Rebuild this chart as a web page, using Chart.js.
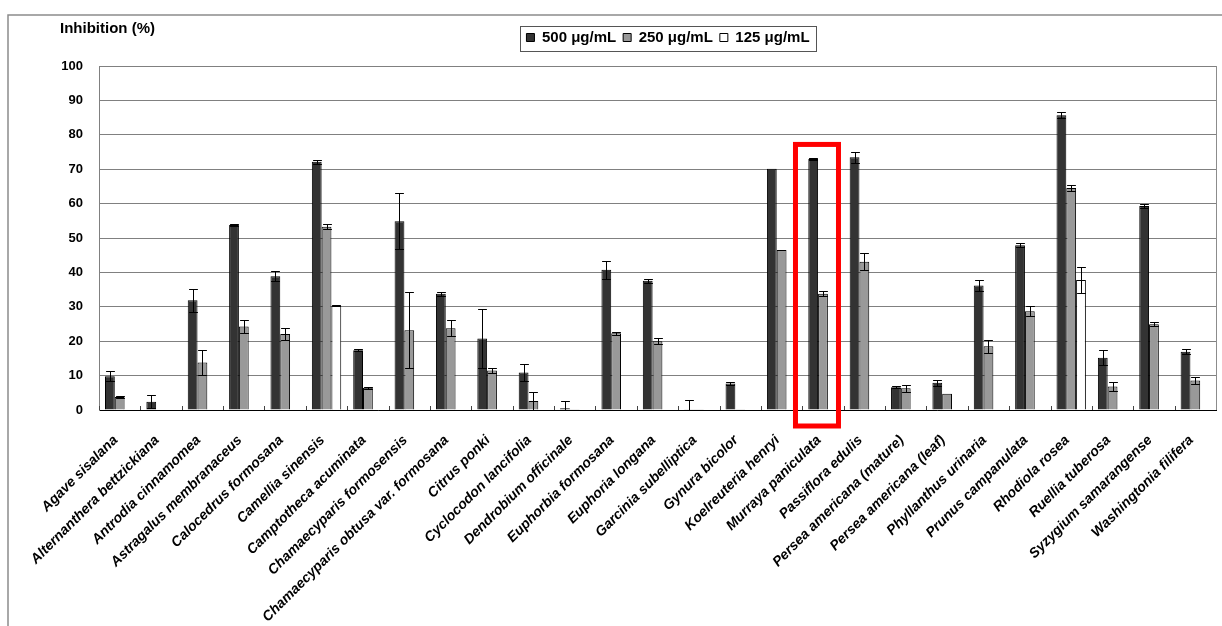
<!DOCTYPE html>
<html>
<head>
<meta charset="utf-8">
<script src="https://cdn.jsdelivr.net/npm/chart.js@4.4.1/dist/chart.umd.min.js"></script>
<style>
  html, body { margin: 0; padding: 0; background: #fff; }
</style>
</head>
<body>
<canvas id="chart" width="1222" height="626"></canvas>
<script>
// plant extracts tested
const species = [
  'Agave sisalana', 'Alternanthera bettzickiana', 'Antrodia cinnamomea',
  'Astragalus membranaceus', 'Calocedrus formosana', 'Camellia sinensis',
  'Camptotheca acuminata', 'Chamaecyparis formosensis',
  'Chamaecyparis obtusa var. formosana', 'Citrus ponki', 'Cyclocodon lancifolia',
  'Dendrobium officinale', 'Euphorbia formosana', 'Euphoria longana',
  'Garcinia subelliptica', 'Gynura bicolor', 'Koelreuteria henryi',
  'Murraya paniculata', 'Passiflora edulis', 'Persea americana (mature)',
  'Persea americana (leaf)', 'Phyllanthus urinaria', 'Prunus campanulata',
  'Rhodiola rosea', 'Ruellia tuberosa', 'Syzygium samarangense', 'Washingtonia filifera'
];

const doseLabels = ['500 μg/mL', '250 μg/mL', '125 μg/mL'];

// mean inhibition (%) per dose
const inh500 = [9.8, 2.4, 31.9, 53.8, 38.9, 72.2, 17.4, 54.9, 33.8, 20.8, 10.9, 0.5, 40.8, 37.6,
                0.2, 7.7, 70.1, 73.0, 73.5, 6.6, 7.9, 36.2, 47.9, 85.7, 15.2, 59.3, 16.9];
const inh250 = [3.8, 0, 13.8, 24.3, 22.1, 53.3, 6.5, 23.2, 23.8, 11.5, 2.6, 0.2, 22.3, 20.0,
                0.1, 0.2, 46.5, 33.8, 43.1, 6.3, 4.7, 18.5, 28.7, 64.5, 6.8, 24.9, 8.6];
const inh125 = [0, 0, 0, 0, 0, 30.3, 0, 0, 0, 0, 0, 0, 0, 0,
                0, 0, 0, 0, 0, 0, 0, 0, 0, 37.8, 0, 0, 0];

// standard deviations
const sd500 = [1.4, 1.9, 3.3, 0.3, 1.4, 0.6, 0.3, 8.1, 0.6, 8.6, 2.5, 2.0, 2.6, 0.6,
               2.7, 0.3, 0, 0.3, 1.6, 0.3, 0.9, 1.7, 0.6, 0.9, 2.1, 0.7, 0.7];
const sd250 = [0.2, 0, 3.5, 1.9, 1.8, 0.8, 0.3, 11.0, 2.3, 0.7, 2.6, 0, 0.5, 0.8,
               0, 0, 0, 0.7, 2.4, 1.1, 0, 1.9, 1.4, 0.9, 1.2, 0.6, 0.9];
const sd125 = [0, 0, 0, 0, 0, 0.2, 0, 0, 0, 0, 0, 0, 0, 0,
               0, 0, 0, 0, 0, 0, 0, 0, 0, 3.8, 0, 0, 0];

const yTicks = { min: 0, max: 100, step: 10 };
const highlighted = 'Murraya paniculata';

const FONT = "'Liberation Sans', Arial, sans-serif";

// error bars, frame, inner ticks and highlight box
const extras = {
  id: 'extras',
  afterLayout(chart) {
    // legend sits right of center, up near the caption line
    const lg = chart.legend;
    const h = lg.bottom - lg.top;
    lg.left = 2 * 668 - lg.right;
    lg.top = 23;
    lg.bottom = lg.top + h;
  },
  beforeDraw(chart) {
    const ctx = chart.ctx;
    ctx.save();
    ctx.strokeStyle = '#8c8c8c';
    ctx.lineWidth = 1.5;
    ctx.beginPath();
    ctx.moveTo(8, chart.height);
    ctx.lineTo(8, 15);
    ctx.lineTo(chart.width, 15);
    ctx.stroke();
    ctx.restore();
  },
  afterDatasetsDraw(chart) {
    const ctx = chart.ctx;
    const y = chart.scales.y;
    const x = chart.scales.x;
    const area = chart.chartArea;
    const sds = [sd500, sd250, sd125];
    ctx.save();
    ctx.strokeStyle = '#000';
    ctx.lineWidth = 1;
    chart.data.datasets.forEach((ds, i) => {
      const meta = chart.getDatasetMeta(i);
      meta.data.forEach((bar, j) => {
        const e = sds[i][j];
        if (!e) return;
        const v = ds.data[j];
        const top = Math.round(y.getPixelForValue(v + e)) + 0.5;
        const bot = Math.round(y.getPixelForValue(Math.max(0, v - e))) + 0.5;
        const cx = Math.round(bar.x) + 0.5;
        const hw = bar.width / 2 - 0.5;
        ctx.beginPath();
        ctx.moveTo(cx, top); ctx.lineTo(cx, bot);
        ctx.moveTo(cx - hw, top); ctx.lineTo(cx + hw, top);
        ctx.moveTo(cx - hw, bot); ctx.lineTo(cx + hw, bot);
        ctx.stroke();
      });
    });
    // small inward tick marks between categories
    ctx.strokeStyle = '#444';
    for (let j = 0; j <= species.length; j++) {
      const px = Math.round(x.getPixelForValue(j - 0.5)) + 0.5;
      ctx.beginPath();
      ctx.moveTo(px, area.bottom);
      ctx.lineTo(px, area.bottom - 4);
      ctx.stroke();
    }
    ctx.restore();
  },
  afterDraw(chart) {
    const ctx = chart.ctx;
    const area = chart.chartArea;
    const x = chart.scales.x;
    const y = chart.scales.y;
    ctx.save();
    // right edge of the plot frame
    ctx.strokeStyle = '#8c8c8c';
    ctx.lineWidth = 1;
    ctx.beginPath();
    ctx.moveTo(Math.round(area.right) + 0.5, area.top);
    ctx.lineTo(Math.round(area.right) + 0.5, area.bottom);
    ctx.stroke();

    // box around the legend
    const boxes = chart.legend.legendHitBoxes;
    if (boxes && boxes.length) {
      const l = Math.min(...boxes.map(b => b.left));
      const r = Math.max(...boxes.map(b => b.left + b.width));
      const t = Math.min(...boxes.map(b => b.top));
      const b2 = Math.max(...boxes.map(b => b.top + b.height));
      ctx.strokeStyle = '#555';
      ctx.lineWidth = 1;
      ctx.strokeRect(Math.round(l - 6) + 0.5, Math.round(t - 4) + 0.5,
                     Math.round(r - l + 13), Math.round(b2 - t + 10));
    }

    // y axis caption
    ctx.fillStyle = '#000';
    ctx.font = 'bold 15px ' + FONT;
    ctx.textAlign = 'left';
    ctx.textBaseline = 'alphabetic';
    ctx.fillText('Inhibition (%)', 60, 33);

    // highlight box
    const k = species.indexOf(highlighted);
    const cx = x.getPixelForValue(k);
    const top = y.getPixelForValue(77.2);
    ctx.strokeStyle = '#ff0000';
    ctx.lineWidth = 5;
    ctx.strokeRect(cx - 27.5, top, 43, area.bottom + 16 - top);
    ctx.restore();
  }
};

const barStyle = (fill) => ({
  backgroundColor: fill,
  borderColor: '#000',
  borderWidth: 1,
  borderSkipped: 'bottom',
  categoryPercentage: 0.71,
  barPercentage: 1.0
});

new Chart(document.getElementById('chart'), {
  type: 'bar',
  data: {
    labels: species,
    datasets: [
      { label: doseLabels[0], data: inh500, ...barStyle('#333333') },
      { label: doseLabels[1], data: inh250, ...barStyle('#999999') },
      { label: doseLabels[2], data: inh125, ...barStyle('#ffffff') }
    ]
  },
  options: {
    responsive: false,
    animation: false,
    layout: { padding: { top: 34, right: 6, left: 0, bottom: 0 } },
    plugins: {
      legend: {
        position: 'top',
        labels: {
          boxWidth: 8,
          boxHeight: 8,
          padding: 7,
          color: '#000',
          font: { family: FONT, size: 15, weight: 'bold' }
        }
      },
      tooltip: { enabled: false }
    },
    scales: {
      x: {
        grid: { display: false, drawTicks: false },
        border: { color: '#000', width: 1 },
        ticks: {
          autoSkip: false,
          minRotation: 45,
          maxRotation: 45,
          padding: 22,
          labelOffset: -4,
          color: '#000',
          font: { family: FONT, size: 14, weight: 'bold', style: 'italic' }
        },
        afterFit: s => {
          s.height = 216;
          s.paddingLeft = 0;
          s.paddingRight = 0;
        }
      },
      y: {
        min: yTicks.min,
        max: yTicks.max,
        grid: { color: '#808080', drawTicks: false },
        border: { color: '#808080' },
        ticks: {
          stepSize: yTicks.step,
          padding: 16,
          color: '#000',
          font: { family: FONT, size: 13, weight: 'bold' }
        },
        afterFit: s => { s.width = 99; }
      }
    }
  },
  plugins: [extras]
});
</script>
</body>
</html>
